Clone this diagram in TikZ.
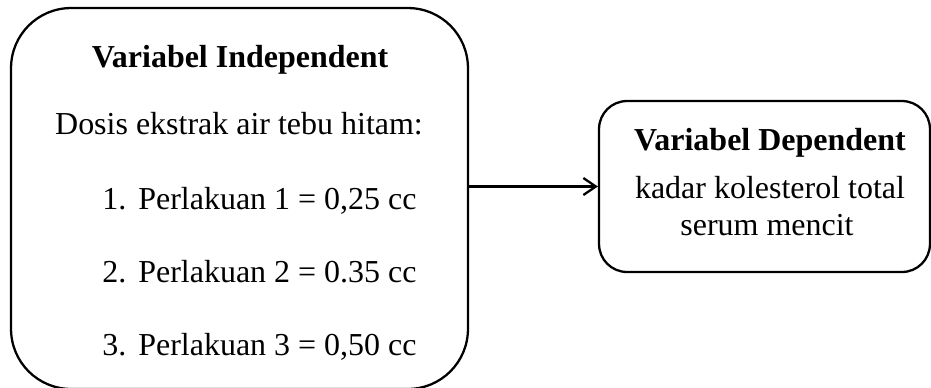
\documentclass[tikz,border=0pt]{standalone}
\usepackage{fontspec}
\setmainfont{Liberation Serif}
\usepackage{tikz}
\usetikzlibrary{arrows.meta}

\begin{document}
\begin{tikzpicture}
	[
		x=0.02cm, y=-0.02cm,
		box/.style={draw=black, line width=1.3pt},
		txt/.style={font=\fontsize{18.2pt}{22pt}\selectfont, inner sep=0pt},
		head/.style={txt, font=\fontsize{18.2pt}{22pt}\selectfont\bfseries}
	]
	
	% Fix the page size.
	\useasboundingbox (0,0) rectangle (931,387);
	
	% Draw boxes.
	\node[box, rounded corners=1.2cm, minimum width=9.14cm, minimum height=7.62cm] (indep) at (239.5,198.5) {};
	\node[box, rounded corners=0.56cm, minimum width=6.62cm, minimum height=3.42cm] (dep) at (764.5,186.5) {};
	
	% Text of the left box.
	\node[head, anchor=base] (indeptitle) at (240,67) {Variabel Independent};
	\node[txt, anchor=base] (dosis) at (239,134) {Dosis ekstrak air tebu hitam:};
	\node[txt, anchor=base west] (num1) at (102,209) {1.};
	\node[txt, anchor=base west] (item1) at (138,209) {Perlakuan 1 = 0,25 cc};
	\node[txt, anchor=base west] (num2) at (102,282) {2.};
	\node[txt, anchor=base west] (item2) at (138,282) {Perlakuan 2 = 0.35 cc};
	\node[txt, anchor=base west] (num3) at (102,355) {3.};
	\node[txt, anchor=base west] (item3) at (138,355) {Perlakuan 3 = 0,50 cc};
	
	% Text of the right box.
	\node[head, anchor=base] (deptitle) at (770,150) {Variabel Dependent};
	\node[txt, anchor=base] (kadar) at (770,198) {kadar kolesterol total};
	\node[txt, anchor=base] (serum) at (767,235) {serum mencit};
	
	% Draw arrow.
	\draw[line width=1.3pt, -{Straight Barb[length=0.25cm, width=0.34cm]}] (indep.east |- dep.west) -- (dep.west);
\end{tikzpicture}
\end{document}
